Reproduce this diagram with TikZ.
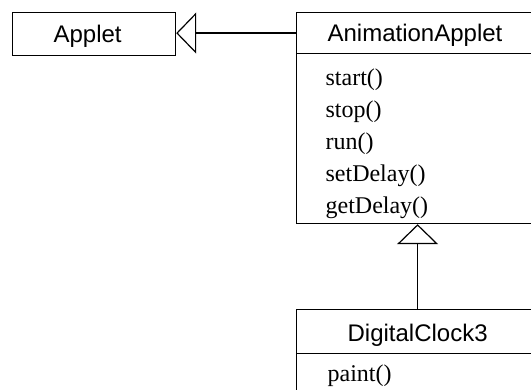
\documentclass[tikz,border=0pt]{standalone}
\usepackage{fontspec}
\setmainfont{Liberation Serif}
\setsansfont{Liberation Sans}
\usetikzlibrary{arrows.meta}
\begin{document}
\begin{tikzpicture}[x=1pt,y=-1pt, line width=1.2pt,
  box/.style={draw, anchor=north west, inner sep=0pt},
  classname/.style={anchor=base west, inner sep=0pt, font=\sffamily\fontsize{24}{24}\selectfont},
  method/.style={anchor=base west, inner sep=0pt, font=\rmfamily\fontsize{24}{24}\selectfont},
  inherit/.style={-{Triangle[open, width=#1, length=20pt]}}
]
\useasboundingbox (0,0) rectangle (531,390);
\clip (0,0) rectangle (531,390);

% Applet
\node[box, minimum width=163pt, minimum height=43pt] (applet) at (12,12) {};
\node[classname] (appletname) at (53,43) {Applet};

% AnimationApplet
\node[box, minimum width=242pt, minimum height=41pt] (aahead) at (296,12) {};
\node[box, minimum width=242pt, minimum height=170pt] (aabody) at (296,53) {};
\node[classname] (aaname) at (327,42) {AnimationApplet};
\node[method] (m1) at (325,86) {start()};
\node[method] (m2) at (325,118) {stop()};
\node[method] (m3) at (325,150) {run()};
\node[method] (m4) at (325,182) {setDelay()};
\node[method] (m5) at (325,214) {getDelay()};

% DigitalClock3
\node[box, minimum width=242pt, minimum height=44pt] (dchead) at (296,309) {};
\node[box, minimum width=242pt, minimum height=60pt] (dcbody) at (296,353) {};
\node[classname] (dcname) at (347,342) {DigitalClock3};
\node[method] (m6) at (327,382) {paint()};

% inheritance
\draw[inherit=41pt] (aahead.west) -- (aahead.west -| applet.east);
\draw[inherit=41pt] (dchead.north) -- (aabody.south);
\end{tikzpicture}
\end{document}
